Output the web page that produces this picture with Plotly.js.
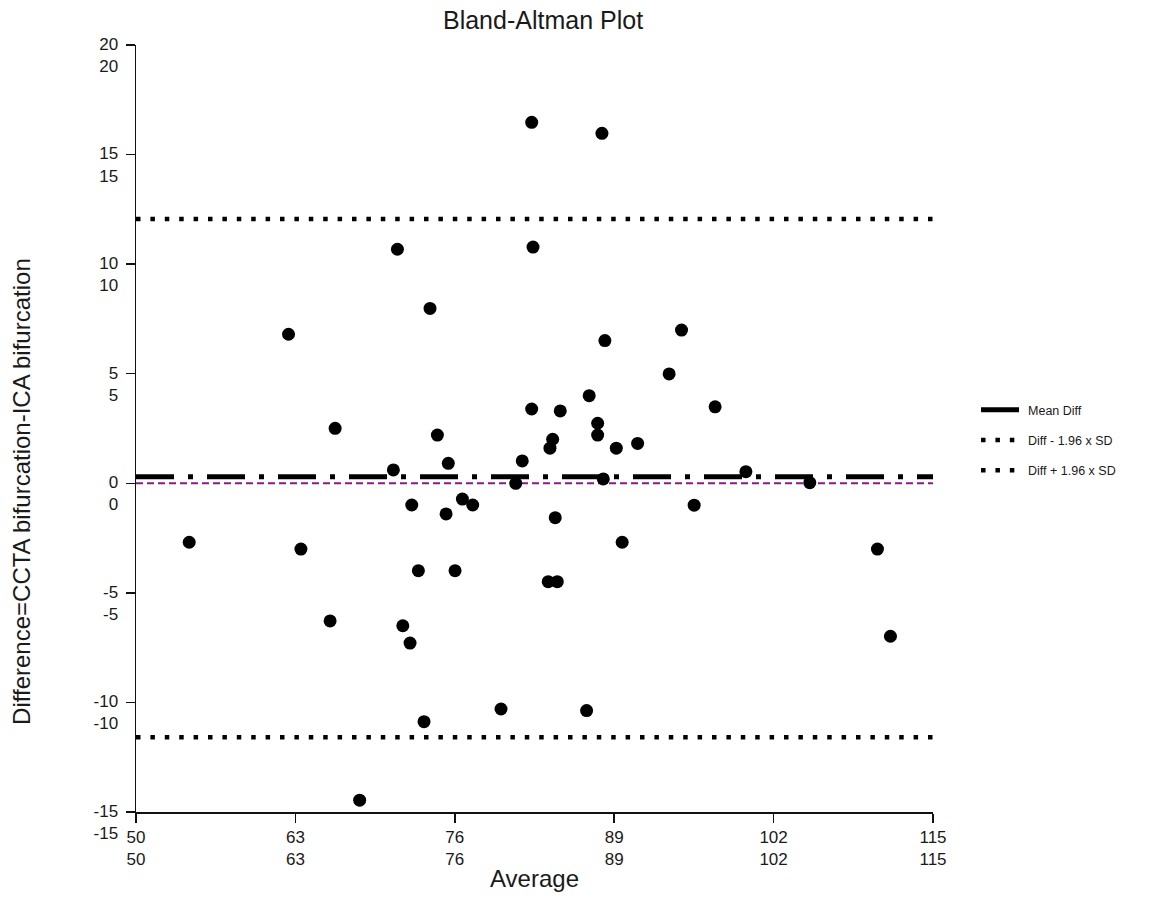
<!DOCTYPE html>
<html>
<head>
<meta charset="utf-8">
<script src="https://cdn.plot.ly/plotly-3.0.1.min.js"></script>
<style>html,body{margin:0;padding:0;background:#fff;}#chart{width:1151px;height:899px;}</style>
</head>
<body>
<div id="chart"></div>
<script>
// Averages (x) and differences (y)
var averages = [54.34, 62.44, 63.45, 66.24, 65.83, 68.24, 70.99, 71.32, 71.76, 72.35,
  72.49, 73.03, 73.49, 73.98, 74.58, 75.29, 75.47, 76.02, 76.62, 77.46,
  79.77, 80.97, 81.50, 82.27, 82.27, 82.38, 83.62, 83.76, 83.98, 84.36,
  84.19, 84.60, 86.75, 86.96, 87.65, 87.65, 88.00, 88.11, 88.24, 89.17,
  89.65, 90.91, 93.48, 94.49, 95.52, 97.23, 99.74, 104.95, 110.47, 111.53];
var differences = [-2.69, 6.80, -3.00, 2.51, -6.28, -14.46, 0.61, 10.68, -6.50, -7.29,
  -0.99, -3.99, -10.88, 7.98, 2.20, -1.40, 0.91, -3.99, -0.72, -0.99,
  -10.30, 0.00, 1.02, 16.47, 3.39, 10.78, -4.49, 1.60, 2.01, -4.49,
  -1.57, 3.30, -10.37, 4.00, 2.74, 2.20, 15.97, 0.20, 6.51, 1.60,
  -2.69, 1.82, 4.99, 6.99, -1.00, 3.49, 0.53, 0.03, -3.00, -6.98];

var meanDiff = 0.30;
var lowerLimit = -11.59;
var upperLimit = 12.06;
var zeroLine = 0;

var xRange = [50, 115];
var yRange = [-15, 20];
var xTicks = [50, 63, 76, 89, 102, 115];
var yTicks = [-15, -10, -5, 0, 5, 10, 15, 20];

var legendNames = ['Mean Diff', 'Diff - 1.96 x SD', 'Diff + 1.96 x SD'];
var yTitle = 'Difference=CCTA bifurcation-ICA bifurcation';

var font = 'Liberation Sans, Arial, sans-serif';

var traces = [
  {
    x: xRange, y: [zeroLine, zeroLine], mode: 'lines', showlegend: false,
    line: {color: '#8a1a8a', width: 2, dash: '7px,4px'}, hoverinfo: 'skip'
  },
  {
    x: xRange, y: [meanDiff, meanDiff], mode: 'lines', name: legendNames[0], legendgroup: 'a',
    line: {color: '#000', width: 5, dash: '38px,14px,5px,14px'}
  },
  {
    x: xRange, y: [lowerLimit, lowerLimit], mode: 'lines', name: legendNames[1], legendgroup: 'b',
    line: {color: '#000', width: 4.5, dash: '4.5px,9.9px'}
  },
  {
    x: xRange, y: [upperLimit, upperLimit], mode: 'lines', name: legendNames[2], legendgroup: 'c',
    line: {color: '#000', width: 4.5, dash: '4.5px,9.9px'}
  },
  {
    x: averages, y: differences, mode: 'markers', showlegend: false,
    marker: {color: '#000', size: 13, line: {width: 0}}
  }
];

var layout = {
  width: 1151, height: 899,
  paper_bgcolor: '#fff', plot_bgcolor: '#fff',
  margin: {l: 136, r: 218, t: 45, b: 87, autoexpand: false},
  font: {family: font, color: '#1a1a1a'},
  title: {text: 'Bland-Altman Plot', font: {family: font, size: 25, color: '#1a1a1a'},
    x: 0.4718, xref: 'container', xanchor: 'center', y: 0.978, yref: 'container', yanchor: 'middle'},
  xaxis: {
    range: xRange, tickmode: 'array', tickvals: xTicks,
    ticktext: xTicks.map(function(v){return v + '<br>' + v;}),
    showline: true, linecolor: '#111', linewidth: 1.5, mirror: false,
    ticks: 'outside', ticklen: 9, tickwidth: 1.5, tickcolor: '#111',
    showgrid: false, zeroline: false, automargin: false,
    tickfont: {family: font, size: 17, color: '#1a1a1a'},
    title: {text: 'Average', font: {family: font, size: 24, color: '#1a1a1a'}, standoff: 2}
  },
  yaxis: {
    range: yRange, tickmode: 'array', tickvals: yTicks,
    ticktext: yTicks.map(function(v){return v + '<br>' + v;}),
    ticklabelshift: 10, ticklabelstandoff: 4,
    showline: true, linecolor: '#111', linewidth: 1.5, mirror: false,
    ticks: 'outside', ticklen: 9, tickwidth: 1.5, tickcolor: '#111',
    showgrid: false, zeroline: false, automargin: false,
    tickfont: {family: font, size: 17, color: '#1a1a1a'}
  },
  annotations: [{
    text: yTitle, textangle: -90, showarrow: false,
    xref: 'paper', yref: 'paper', x: (22 - 136) / 797.6, y: (812.3 - 492) / 767.3,
    xanchor: 'center', yanchor: 'middle',
    font: {family: font, size: 24, color: '#1a1a1a'}
  }],
  legend: {
    x: 1.054, xanchor: 'left', y: 0.485, yanchor: 'middle',
    font: {family: font, size: 12.5, color: '#1a1a1a'},
    itemwidth: 42,
    tracegroupgap: 11, bgcolor: 'rgba(0,0,0,0)'
  },
  showlegend: true
};

Plotly.newPlot('chart', traces, layout, {displayModeBar: false, staticPlot: true});
</script>
</body>
</html>
